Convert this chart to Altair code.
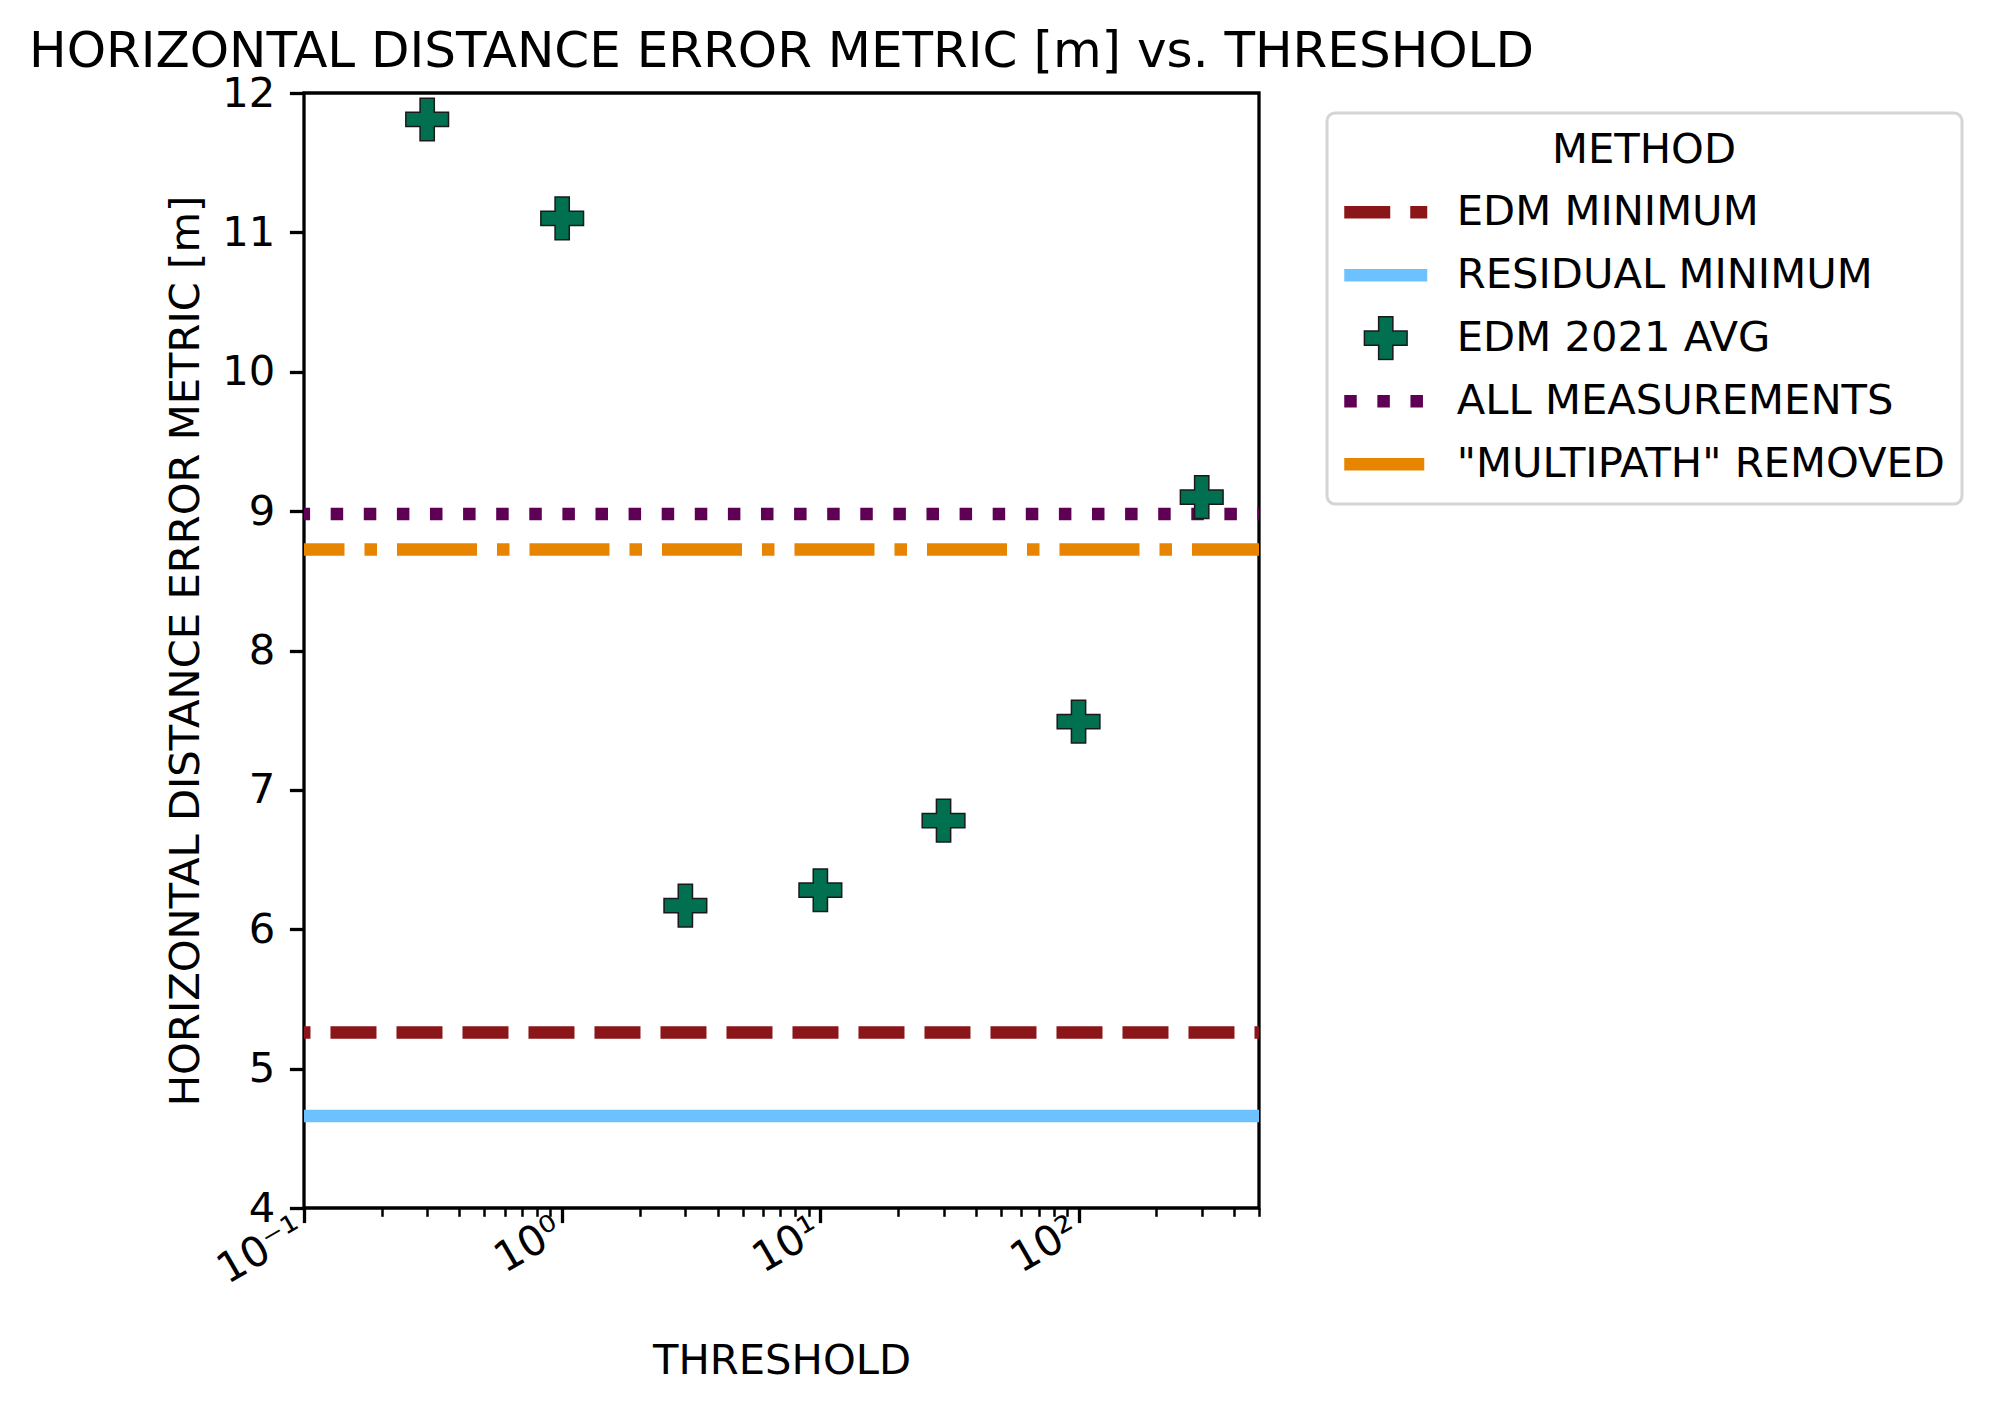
import json
import altair as alt
import pandas as pd

# ---------------- data ----------------
thresholds = [0.3, 1, 3, 10, 30, 100, 300]
edm_2021_avg = [11.81, 11.10, 6.17, 6.28, 6.78, 7.49, 9.10]

methods = ["EDM MINIMUM", "RESIDUAL MINIMUM", "EDM 2021 AVG",
           "ALL MEASUREMENTS", '"MULTIPATH" REMOVED']

line_methods = ["EDM MINIMUM", "RESIDUAL MINIMUM",
                "ALL MEASUREMENTS", '"MULTIPATH" REMOVED']
line_values = [5.26, 4.66, 8.98, 8.725]
line_x_start = [0.0703, 0.0703, 0.0703, 0.0703]
line_x_end = [500, 500, 500, 500]

x_major_ticks = [0.1, 1, 10, 100]
x_major_labels = ["10\u207b\u00b9", "10\u2070", "10\u00b9", "10\u00b2"]
x_minor_ticks = [0.2, 0.3, 0.4, 0.5, 0.6, 0.7, 0.8, 0.9,
                 2, 3, 4, 5, 6, 7, 8, 9,
                 20, 30, 40, 50, 60, 70, 80, 90,
                 200, 300, 400, 500]
y_ticks = [4, 5, 6, 7, 8, 9, 10, 11, 12]

# ---------------- styles ----------------
FONT = "DejaVu Sans"
FS = 41.7
LW = 12.5
GREEN = "#007050"
EDGE = "#1a1a1a"
PLUS = ("M-1,-0.3333L-0.3333,-0.3333L-0.3333,-1L0.3333,-1L0.3333,-0.3333"
        "L1,-0.3333L1,0.3333L0.3333,0.3333L0.3333,1L-0.3333,1L-0.3333,0.3333"
        "L-1,0.3333Z")
PLUS_SIZE = 1823
HANDLE_SIZE = 6889

stroke_colors = ["#8b1619", "#6ec1ff", EDGE, "#5e0054", "#e88500"]
fill_colors = ["transparent", "transparent", GREEN, "transparent", "transparent"]
dashes = [[46, 20], [1, 0], [1, 0], [12.5, 20.6], [80, 20, 12.5, 20]]
widths = [LW, LW, 1.5, LW, LW]
shapes = ["stroke", "stroke", PLUS, "stroke", "stroke"]
sizes = [HANDLE_SIZE, HANDLE_SIZE, PLUS_SIZE, HANDLE_SIZE, HANDLE_SIZE]

points_df = pd.DataFrame({"threshold": thresholds, "err": edm_2021_avg,
                          "method": "EDM 2021 AVG"})
lines_df = pd.DataFrame({"method": line_methods, "value": line_values,
                         "x0": line_x_start, "x1": line_x_end})

x_scale = alt.Scale(type="log", domain=[0.1, 500], nice=False)
y_scale = alt.Scale(domain=[4, 12], nice=False, zero=False)

major_arr = "[" + ",".join(str(v) for v in x_major_ticks) + "]"
label_arr = "[" + ",".join(json.dumps(s) for s in x_major_labels) + "]"
is_major = f"indexof({major_arr}, datum.value) >= 0"
label_expr = f"{is_major} ? {label_arr}[indexof({major_arr}, datum.value)] : ''"

x_axis = alt.Axis(
    values=sorted(x_major_ticks + x_minor_ticks),
    labelExpr=label_expr,
    tickSize={"condition": {"test": is_major, "value": 14.6}, "value": 8.3},
    tickWidth={"condition": {"test": is_major, "value": 3.3}, "value": 2.5},
    tickColor="black",
    labelAngle=330, labelAlign="right", labelBaseline="top",
    labelOffset=-14, labelPadding=-13,
    labelFontSize=FS, labelFont=FONT, labelColor="black",
    labelOverlap=False, labelFlush=False,
    domain=False, grid=False,
    title="THRESHOLD", titleFont=FONT, titleFontSize=FS,
    titleFontWeight="normal", titleColor="black",
    titleX=477.5, titleY=165, titleAlign="center", titleBaseline="alphabetic",
)

y_axis = alt.Axis(
    values=y_ticks, format="d",
    tickSize=14.6, tickWidth=3.3, tickColor="black",
    labelFontSize=FS, labelFont=FONT, labelColor="black", labelPadding=14.6,
    domain=False, grid=False,
    title="HORIZONTAL DISTANCE ERROR METRIC [m]", titleFont=FONT,
    titleFontSize=FS, titleFontWeight="normal", titleColor="black",
    titleX=-106, titleY=557.5, titleAngle=270, titleAlign="center",
    titleBaseline="alphabetic",
)

legend = alt.Legend(
    title="METHOD", orient="none", legendX=1023, legendY=20,
    padding=17, fillColor="white", strokeColor="#d5d5d5", cornerRadius=8,
    titleAnchor="middle", titleFont=FONT, titleFontSize=FS, titleLimit=1000,
    titleFontWeight="normal", titleColor="black", titlePadding=18,
    labelFont=FONT, labelFontSize=FS, labelColor="black", labelOffset=23,
    labelLimit=0, rowPadding=18, clipHeight=45, symbolOffset=-6.25,
    symbolFillColor="transparent", symbolOpacity=1,
)

def sc(rng, ordinal=False):
    if ordinal:
        return alt.Scale(type="ordinal", domain=methods, range=rng)
    return alt.Scale(domain=methods, range=rng)

rules = alt.Chart(lines_df).mark_rule(clip=True, strokeCap="butt").encode(
    x=alt.X("x0:Q", scale=x_scale, axis=x_axis),
    x2="x1:Q",
    y=alt.Y("value:Q", scale=y_scale, axis=y_axis),
    color=alt.Color("method:N", scale=sc(stroke_colors), legend=legend),
    strokeDash=alt.StrokeDash("method:N", scale=sc(dashes), legend=legend),
    strokeWidth=alt.StrokeWidth("method:N", scale=sc(widths, True), legend=legend),
)

points = alt.Chart(points_df).mark_point(filled=False, opacity=1).encode(
    x=alt.X("threshold:Q", scale=x_scale, axis=x_axis),
    y=alt.Y("err:Q", scale=y_scale, axis=y_axis),
    color=alt.Color("method:N", scale=sc(stroke_colors), legend=legend),
    fill=alt.Fill("method:N", scale=sc(fill_colors), legend=legend),
    shape=alt.Shape("method:N", scale=sc(shapes), legend=legend),
    size=alt.Size("method:N", scale=sc(sizes, True), legend=legend),
    strokeWidth=alt.StrokeWidth("method:N", scale=sc(widths, True), legend=legend),
)

chart = alt.layer(rules, points).properties(
    width=955, height=1115,
    padding={"left": 296, "top": 85, "right": 725, "bottom": 180},
    autosize=alt.AutoSizeParams(type="none"),
    title=alt.Title("HORIZONTAL DISTANCE ERROR METRIC [m] vs. THRESHOLD",
                    font=FONT, fontSize=50, fontWeight="normal", color="black",
                    anchor="middle", frame="group", offset=0, dy=43.5,
                    baseline="alphabetic"),
).configure(font=FONT).configure_view(
    stroke="black", strokeWidth=3.3
).configure_legend(strokeWidth=3)

chart.save("out.html", embed_options={"renderer": "svg", "actions": False})
